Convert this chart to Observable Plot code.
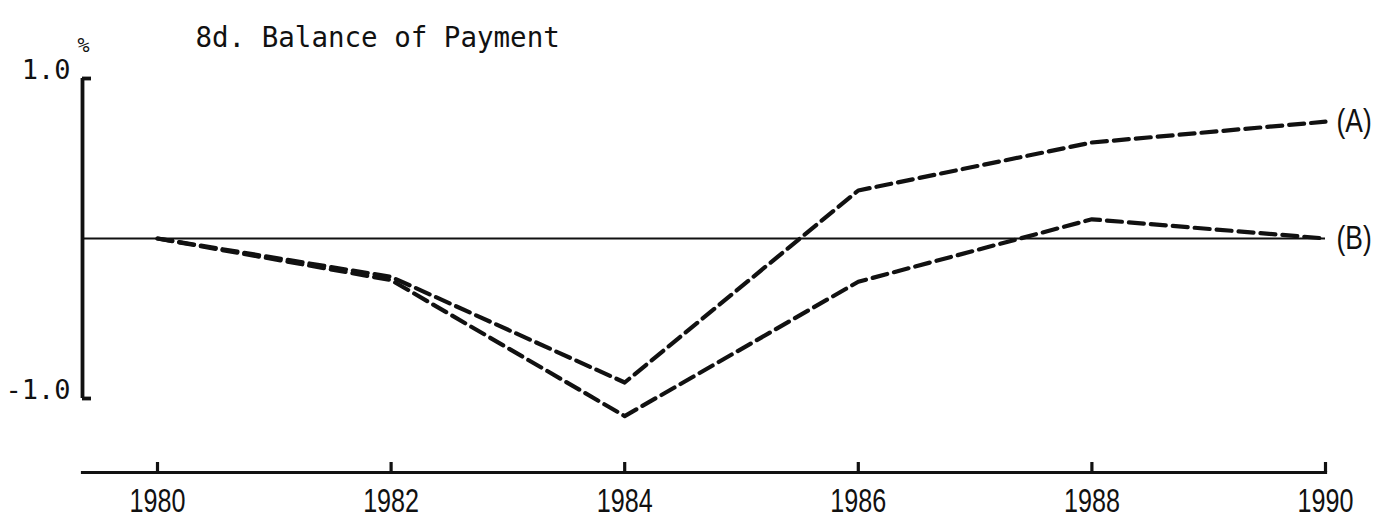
<!DOCTYPE html>
<html><head><meta charset="utf-8">
<script src="https://cdn.jsdelivr.net/npm/d3@7"></script>
<script src="https://cdn.jsdelivr.net/npm/@observablehq/plot@0.6"></script>
<style>
body{margin:0;background:#fff;}
#chart svg{display:block;background:#fff;}
</style></head><body><div id="chart"></div>
<script>
const years = [1980, 1982, 1984, 1986, 1988, 1990];
const seriesA = [0, -0.24, -0.90, 0.30, 0.60, 0.73];
const seriesB = [0, -0.26, -1.11, -0.27, 0.12, 0];
const seriesNames = ["(A)", "(B)"];
const yTicks = [-1.0, 1.0];
const xTicks = years;
const title = "8d. Balance of Payment";
const unitLabel = "%";

const rows = [];
years.forEach((yr, i) => {
  rows.push({year: yr, value: seriesA[i], series: seriesNames[0]});
  rows.push({year: yr, value: seriesB[i], series: seriesNames[1]});
});
const last = years.length - 1;
const ends = [
  {year: years[last], value: seriesA[last], series: seriesNames[0]},
  {year: years[last], value: seriesB[last], series: seriesNames[1]}
];

const mono = "'DejaVu Sans Mono', 'Liberation Mono', monospace";
const sans = "'Liberation Sans', Arial, sans-serif";
const ink = "#111";

const chart = Plot.plot({
  width: 1377,
  height: 521,
  marginLeft: 82,
  marginRight: 52,
  marginTop: 78,
  marginBottom: 49,
  x: {domain: [1980, 1990], insetLeft: 75},
  y: {domain: [-1, 1], insetBottom: 74},
  style: {background: "#fff", color: ink},
  marks: [
    Plot.ruleY([0], {stroke: ink, strokeWidth: 2.2}),
    Plot.line(rows, {x: "year", y: "value", z: "series", stroke: ink, strokeWidth: 4.2, strokeDasharray: "15,7"}),
    Plot.frame({anchor: "bottom", stroke: ink, strokeWidth: 3.2}),
    Plot.axisX({ticks: xTicks, tickSize: 10, dy: -10, tickPadding: 15, strokeWidth: 3.2,
      tickFormat: d => String(d), fontSize: 34, fontFamily: sans, label: null}),
    Plot.ruleX([1980], {y1: -1, y2: 1, dx: -75, stroke: ink, strokeWidth: 3.8}),
    Plot.axisY({ticks: yTicks, tickSize: 9, dx: 9, strokeWidth: 3.8, tickFormat: () => "", label: null}),
    Plot.text(yTicks, {y: d => d, frameAnchor: "left", dx: -12, dy: -8, textAnchor: "end", lineAnchor: "middle",
      text: d => d.toFixed(1), fontSize: 27, fontFamily: mono, fill: ink}),
    Plot.text(ends, {x: "year", y: "value", text: "series", dx: 11, textAnchor: "start", lineAnchor: "middle",
      fontSize: 33, fontFamily: sans, fill: ink}),
    Plot.text([title], {frameAnchor: "top-left", dx: 113, dy: -40, textAnchor: "start", lineAnchor: "middle",
      fontSize: 27.5, fontFamily: mono, fill: ink}),
    Plot.text([unitLabel], {frameAnchor: "top-left", dx: 1, dy: -33, textAnchor: "middle", lineAnchor: "middle",
      fontSize: 20, fontFamily: mono, fill: ink})
  ]
});
document.getElementById("chart").append(chart);

// condense the sans-serif labels horizontally, like the original's narrow typeface
function condense(elements, sx, anchor) {
  elements.forEach(el => {
    const b = el.getBBox();
    const cx = anchor === "middle" ? b.x + b.width / 2 : b.x;
    const t = el.getAttribute("transform") || "";
    el.setAttribute("transform", `${t} translate(${cx},0) scale(${sx},1) translate(${-cx},0)`);
  });
}
condense([...chart.querySelectorAll("g[aria-label='x-axis tick label'] text")], 0.74, "middle");
condense([...chart.querySelectorAll("text")].filter(el => seriesNames.includes(el.textContent)), 0.8, "start");
</script></body></html>
